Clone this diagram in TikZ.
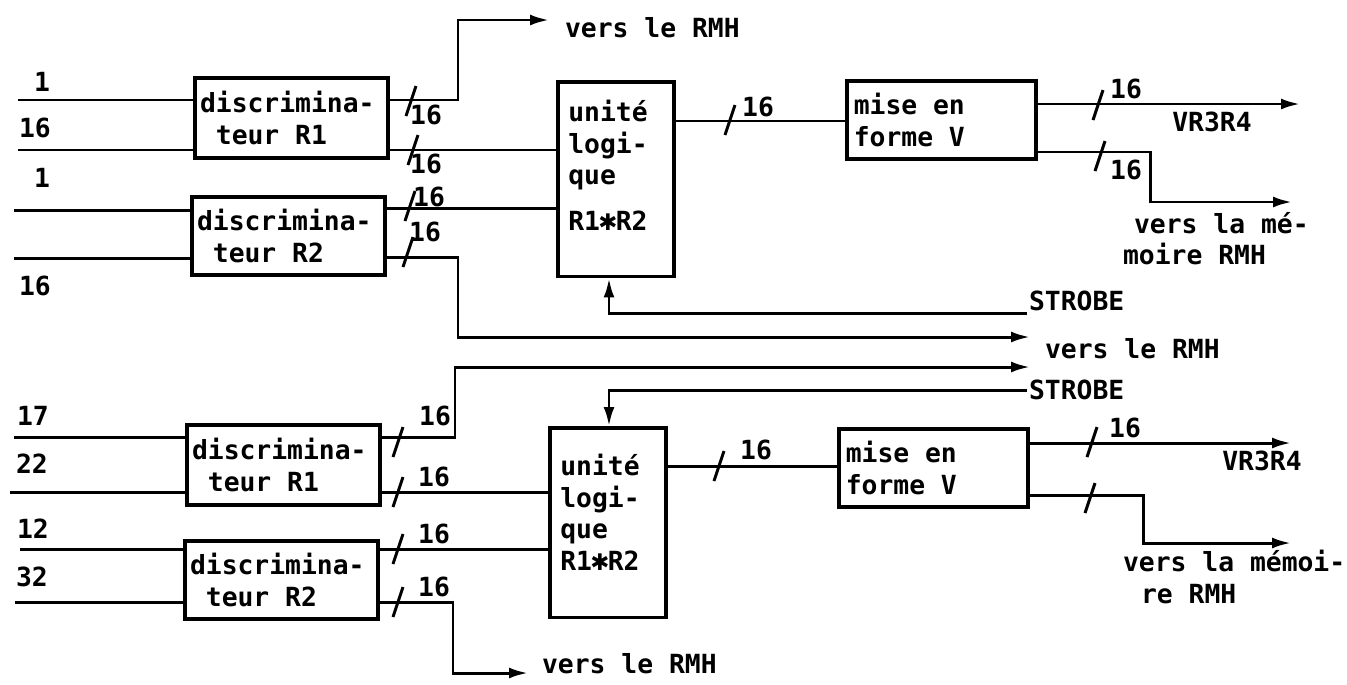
\documentclass[tikz,border=0pt]{standalone}
\usepackage{fontspec}
\setmainfont{DejaVu Sans Mono}[WordSpace={1,0,0}]
\newfontfamily\dejavu{DejaVu Sans}
\usetikzlibrary{arrows.meta, positioning, calc}
\newcommand{\etoile}{\makebox[0.6em]{\dejavu\fontsize{13}{13}\selectfont ✱}}

\begin{document}
\begin{tikzpicture}[x=0.02cm, y=-0.02cm, font=\fontsize{15}{18}\selectfont\bfseries,
    blk/.style={draw, line width=2pt, anchor=north west, align=flush left, inner ysep=2pt},
    disc/.style={blk, inner xsep=3pt, text width=3.65cm, minimum height=1.6cm},
    unit/.style={blk, inner xsep=6pt, text width=1.9cm, minimum height=3.9cm},
    mef/.style={blk, inner xsep=4pt, text width=3.5cm, minimum height=1.56cm},
    wire/.style={line width=1.7pt},
    arrow/.style={wire, -{Latex[length=3.8mm, width=2.2mm]}},
    tag/.style={inner sep=1pt},
    bus/.pic={\draw[wire] (-5,15) -- (5,-15);}]
    \useasboundingbox (0,0) rectangle (1347,684);

    % voie 1 : entrees 1 a 16
    \node[disc] (dA1) at (193,76) {discrimina-\\\hphantom{d}teur R1};
    \node[disc, minimum height=1.56cm] (dB1) at (190,195) {discrimina-\\\hphantom{d}teur R2};
    \node[unit] (ul1) at (556,80) {unité\\logi-\\que\\[8pt]R1\etoile R2\\[-2pt]\mbox{}};
    \node[mef] (mf1) at (845,79) {mise en\\forme V};

    \coordinate (i1) at (18,100);
    \coordinate (i2) at (18,150);
    \coordinate (i3) at (14,210);
    \coordinate (i4) at (14,258);
    \draw[wire] (i1) -- (i1 -| dA1.west);
    \draw[wire] (i2) -- (i2 -| dA1.west);
    \draw[wire] (i3) -- (i3 -| dB1.west);
    \draw[wire] (i4) -- (i4 -| dB1.west);
    \node[tag] (n1) at (42,82) {1};
    \node[tag] (n2) at (35,128) {16};
    \node[tag] (n3) at (42,178) {1};
    \node[tag] (n4) at (35,286) {16};

    \coordinate (e1) at (549,20);
    \draw[arrow] (dA1.east |- i1) -| (458,20) -- (e1);
    \node[tag, anchor=west] (t1) at ($(e1)+(14,8)$) {vers le RMH};
    \pic at (411,101) {bus};
    \node[tag] (w1) at (426,115) {16};
    \draw[wire] (dA1.east |- i2) -- (ul1.west |- i2);
    \pic at (413,150) {bus};
    \node[tag] (w2) at (426,164) {16};
    \draw[wire] (dB1.east |- 0,208) -- (ul1.west |- 0,208);
    \pic at (410,206) {bus};
    \node[tag] (w3) at (429,197) {16};
    \coordinate (e2) at (1030,337);
    \draw[arrow] (dB1.east |- 0,257) -| (458,337) -- (e2);
    \pic at (408,252) {bus};
    \node[tag] (w4) at (425,232) {16};
    \node[tag, anchor=west] (t2) at ($(e2)+(13,12)$) {vers le RMH};

    \node[tag, anchor=south west] (sb1) at (1027,313) {STROBE};
    \draw[arrow] (sb1.south west) -| (ul1.south -| 609,0);

    \draw[wire] (ul1.east |- 0,121) -- (mf1.west |- 0,121);
    \pic at (730,120) {bus};
    \node[tag] (w5) at (758,107) {16};

    \coordinate (e3) at (1300,104);
    \draw[arrow] (mf1.east |- e3) -- (e3);
    \pic at (1098,105) {bus};
    \node[tag] (w6) at (1126,89) {16};
    \node[tag] (v1) at (1212,122) {VR3R4};
    \coordinate (e4) at (1292,202);
    \draw[arrow] (mf1.east |- 0,152) -| (1150,202) -- (e4);
    \pic at (1100,156) {bus};
    \node[tag] (w7) at (1126,170) {16};
    \node[tag, anchor=north west, align=flush left] (t3) at (1121,210) {\hspace*{0.22cm}vers la mé-\\moire RMH};

    % voie 2 : entrees 17 a 32
    \node[disc] (dA2) at (185,423) {discrimina-\\\hphantom{d}teur R1};
    \node[disc, minimum height=1.56cm] (dB2) at (183,539) {discrimina-\\\hphantom{d}teur R2};
    \node[unit, minimum height=3.8cm] (ul2) at (548,426) {unité\\logi-\\que\\R1\etoile R2\\[-6pt]\mbox{}};
    \node[mef] (mf2) at (837,427) {mise en\\forme V};

    \coordinate (i5) at (14,437);
    \coordinate (i6) at (10,492);
    \coordinate (i7) at (20,549);
    \coordinate (i8) at (15,602);
    \draw[wire] (i5) -- (i5 -| dA2.west);
    \draw[wire] (i6) -- (i6 -| dA2.west);
    \draw[wire] (i7) -- (i7 -| dB2.west);
    \draw[wire] (i8) -- (i8 -| dB2.west);
    \node[tag] (n5) at (33,416) {17};
    \node[tag] (n6) at (32,464) {22};
    \node[tag] (n7) at (33,529) {12};
    \node[tag] (n8) at (32,577) {32};

    \coordinate (e5) at (1030,367);
    \draw[arrow] (dA2.east |- i5) -| (455,367) -- (e5);
    \pic at (398,442) {bus};
    \node[tag] (w8) at (435,416) {16};
    \draw[wire] (dA2.east |- i6) -- (ul2.west |- i6);
    \pic at (398,492) {bus};
    \node[tag] (w9) at (434,477) {16};
    \draw[wire] (dB2.east |- i7) -- (ul2.west |- i7);
    \pic at (398,549) {bus};
    \node[tag] (w10) at (434,534) {16};
    \coordinate (e6) at (528,673);
    \draw[arrow] (dB2.east |- i8) -| (453,673) -- (e6);
    \pic at (398,602) {bus};
    \node[tag] (w11) at (434,587) {16};
    \node[tag, anchor=west] (t4) at ($(e6)+(12,-9)$) {vers le RMH};

    \node[tag, anchor=west] (sb2) at (1027,390) {STROBE};
    \draw[arrow] (sb2.west) -| (ul2.north -| 609,0);

    \draw[wire] (ul2.east |- 0,466) -- (mf2.west |- 0,466);
    \pic at (719,466) {bus};
    \node[tag] (w12) at (756,450) {16};

    \coordinate (e7) at (1291,443);
    \draw[arrow] (mf2.east |- e7) -- (e7);
    \pic at (1092,442) {bus};
    \node[tag] (w13) at (1125,428) {16};
    \node[tag] (v2) at (1262,461) {VR3R4};
    \coordinate (e8) at (1291,543);
    \draw[arrow] (mf2.east |- 0,495) -| (1143,543) -- (e8);
    \pic at (1090,498) {bus};
    \node[tag, anchor=north west, align=flush left] (t5) at (1121,548) {vers la mémoi-\\\hspace*{0.36cm}re RMH};
\end{tikzpicture}
\end{document}
